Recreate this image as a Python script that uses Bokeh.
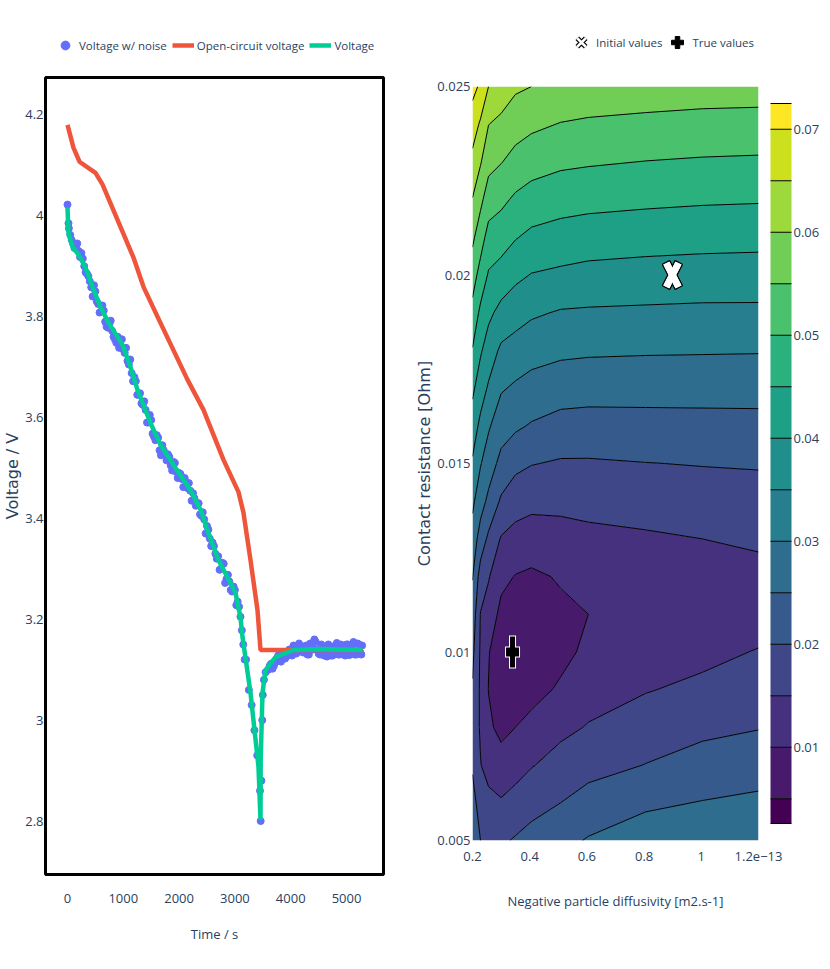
from math import pi
import numpy as np
from bokeh.embed import file_html
from bokeh.layouts import column, row
from bokeh.models import FixedTicker, Legend, LegendItem
from bokeh.palettes import viridis
from bokeh.plotting import figure
from bokeh.resources import INLINE

# left panel: discharge curves
ocv_time = [0, 107, 215, 502, 627, 1183, 1362, 1613, 2150, 2437, 2796, 3065, 3154, 3280, 3405, 3459, 5287]
ocv_volt = [4.18, 4.135, 4.107, 4.085, 4.062, 3.917, 3.859, 3.80, 3.675, 3.615, 3.516, 3.452, 3.411, 3.317, 3.218, 3.139, 3.139]

fit_time = [0, 18, 90, 197, 323, 448, 591, 735, 986, 1129, 1254, 1487, 1667, 1900, 2204, 2384, 2527, 2706, 2921, 3011,
            3100, 3136, 3280, 3423, 3459, 3462, 3495, 3548, 3728, 4050, 4534, 5287]
fit_volt = [4.016, 3.966, 3.938, 3.923, 3.897, 3.859, 3.819, 3.788, 3.744, 3.700, 3.655, 3.589, 3.546, 3.506, 3.456,
            3.417, 3.371, 3.317, 3.272, 3.252, 3.204, 3.165, 3.054, 2.907, 2.802, 2.921, 3.054, 3.099, 3.125, 3.139,
            3.141, 3.139]

noise_time = [0, 18, 50, 100, 150, 200, 250, 300, 350, 400, 450, 500, 550, 600, 650, 700, 750, 800, 850, 900, 950,
              1000, 1050, 1100, 1150, 1200, 1250, 1300, 1350, 1400, 1450, 1500, 1550, 1600, 1650, 1700, 1750, 1800,
              1850, 1900, 1950, 2000, 2050, 2100, 2150, 2200, 2250, 2300, 2350, 2400, 2450, 2500, 2550, 2600, 2650,
              2700, 2750, 2800, 2850, 2900, 2950, 3000, 3050, 3100, 3150, 3200, 3250, 3300, 3350, 3400, 3450, 3462,
              3475, 3490, 3500, 3520, 3550, 3600, 3650, 3700, 3750, 3800, 3850, 3900, 3950, 4000, 4050, 4100, 4150,
              4200, 4250, 4300, 4350, 4400, 4450, 4500, 4550, 4600, 4650, 4700, 4750, 4800, 4850, 4900, 4950, 5000,
              5050, 5100, 5150, 5200, 5250, 5280,
              25, 75, 125, 175, 225, 275, 325, 375, 425, 475, 525, 575, 625, 675, 725, 775, 825, 875, 925, 975,
              1025, 1075, 1125, 1175, 1225, 1275, 1325, 1375, 1425, 1475, 1525, 1575, 1625, 1675, 1725, 1775, 1825,
              1875, 1925, 1975, 2025, 2075, 2125, 2175, 2225, 2275, 2325, 2375, 2425, 2475, 2525, 2575, 2625, 2675,
              2725, 2775, 2825, 2875, 2925, 2975, 3025, 3075, 3125, 3175,
              3625, 3675, 3725, 3775, 3825, 3875, 3925, 3975, 4025, 4075, 4125, 4175, 4225, 4275, 4325, 4375, 4425,
              4475, 4525, 4575, 4625, 4675, 4725, 4775, 4825, 4875, 4925, 4975, 5025, 5075, 5125, 5175, 5225, 5265]
noise_volt = [4.022, 3.985, 3.962, 3.945, 3.938, 3.930, 3.926, 3.900, 3.885, 3.870, 3.840, 3.850, 3.825, 3.810, 3.812,
              3.780, 3.785, 3.772, 3.755, 3.760, 3.742, 3.735, 3.738, 3.705, 3.688, 3.680, 3.645, 3.648, 3.625, 3.615,
              3.590, 3.595, 3.562, 3.565, 3.535, 3.545, 3.525, 3.527, 3.505, 3.512, 3.492, 3.490, 3.478, 3.480, 3.460,
              3.455, 3.450, 3.425, 3.430, 3.405, 3.398, 3.385, 3.360, 3.352, 3.330, 3.325, 3.300, 3.310, 3.280, 3.275,
              3.255, 3.258, 3.235, 3.205, 3.150, 3.120, 3.060, 3.030, 2.980, 2.930, 2.860, 2.800, 2.880, 3.000, 3.050,
              3.080, 3.095, 3.100, 3.112, 3.108, 3.122, 3.118, 3.128, 3.122, 3.135, 3.130, 3.148, 3.132, 3.152, 3.136,
              3.146, 3.130, 3.152, 3.140, 3.155, 3.132, 3.150, 3.128, 3.126, 3.146, 3.128, 3.148, 3.130, 3.150, 3.132,
              3.150, 3.129, 3.146, 3.130, 3.152, 3.134, 3.148,
              3.975, 3.952, 3.936, 3.945, 3.918, 3.915, 3.888, 3.880, 3.858, 3.862, 3.830, 3.808, 3.822, 3.790, 3.778,
              3.792, 3.760, 3.748, 3.738, 3.755, 3.728, 3.712, 3.715, 3.672, 3.672, 3.645, 3.628, 3.632, 3.590, 3.605,
              3.568, 3.555, 3.560, 3.525, 3.535, 3.515, 3.522, 3.495, 3.510, 3.480, 3.488, 3.462, 3.465, 3.470, 3.435,
              3.440, 3.430, 3.408, 3.412, 3.370, 3.378, 3.345, 3.345, 3.320, 3.298, 3.312, 3.272, 3.288, 3.258, 3.265,
              3.228, 3.225, 3.178, 3.120,
              3.108, 3.102, 3.115, 3.128, 3.116, 3.134, 3.126, 3.140, 3.128, 3.145, 3.135, 3.145, 3.134, 3.148, 3.130,
              3.150, 3.160, 3.140, 3.130, 3.142, 3.132, 3.150, 3.128, 3.142, 3.153, 3.130, 3.145, 3.128, 3.150, 3.132,
              3.155, 3.130, 3.150, 3.130]

volt_ticks = [2.8, 3.0, 3.2, 3.4, 3.6, 3.8, 4.0, 4.2]
time_ticks = [0, 1000, 2000, 3000, 4000, 5000]

# right panel: cost landscape, diffusivity in units of 1e-13
diffusivity = [0.2, 0.228, 0.256, 0.3, 0.35, 0.406, 0.508, 0.605, 0.805, 1.004, 1.2]
resistance = [0.005, 0.006, 0.007, 0.008, 0.009, 0.010, 0.011, 0.012, 0.013, 0.014, 0.015, 0.016, 0.017, 0.018, 0.019,
              0.020, 0.021, 0.022, 0.023, 0.024, 0.025]
cost_020 = [.0240, .0215, .0195, .0190, .0195, .0212, .0231, .0252, .0279, .0310, .0344, .0376, .0410, .0447, .0485, .0522, .0560, .0598, .0636, .0675, .0715]
cost_023 = [.0200, .0182, .0152, .0143, .0142, .0143, .0148, .0178, .0228, .0270, .0303, .0338, .0373, .0406, .0439, .0482, .0521, .0562, .0604, .0643, .0692]
cost_026 = [.0185, .0165, .0130, .0108, .0099, .0102, .0127, .0154, .0190, .0239, .0274, .0306, .0344, .0377, .0411, .0445, .0482, .0524, .0566, .0601, .0650]
cost_030 = [.0192, .0155, .0118, .0088, .0078, .0078, .0088, .0112, .0146, .0193, .0236, .0271, .0305, .0341, .0385, .0430, .0472, .0511, .0552, .0586, .0635]
cost_035 = [.0205, .0166, .0133, .0100, .0072, .0062, .0073, .0098, .0132, .0172, .0212, .0258, .0293, .0330, .0370, .0411, .0453, .0492, .0534, .0570, .0608]
cost_041 = [.0215, .0185, .0147, .0113, .0085, .0067, .0073, .0092, .0126, .0163, .0202, .0246, .0282, .0319, .0357, .0398, .0439, .0480, .0520, .0560, .0600]
cost_051 = [.0235, .0200, .0169, .0138, .0106, .0088, .0091, .0104, .0132, .0162, .0195, .0233, .0272, .0310, .0346, .0391, .0430, .0470, .0509, .0548, .0588]
cost_060 = [.0254, .0218, .0184, .0153, .0131, .0109, .0100, .0116, .0138, .0165, .0195, .0231, .0269, .0307, .0344, .0385, .0425, .0465, .0505, .0543, .0582]
cost_080 = [.0275, .0242, .0201, .0177, .0147, .0125, .0118, .0123, .0143, .0172, .0199, .0233, .0268, .0305, .0342, .0381, .0420, .0460, .0499, .0538, .0577]
cost_100 = [.0288, .0252, .0219, .0189, .0162, .0136, .0122, .0130, .0150, .0177, .0202, .0234, .0268, .0304, .0340, .0378, .0417, .0456, .0495, .0534, .0573]
cost_120 = [.0296, .0260, .0228, .0198, .0176, .0153, .0125, .0135, .0158, .0181, .0204, .0235, .0268, .0303, .0340, .0377, .0415, .0454, .0493, .0532, .0572]
levels = [0.0026, 0.005, 0.01, 0.015, 0.02, 0.025, 0.03, 0.035, 0.04, 0.045, 0.05, 0.055, 0.06, 0.065, 0.07, 0.0725]
bar_ticks = [0.01, 0.02, 0.03, 0.04, 0.05, 0.06, 0.07]

initial_values = (0.899, 0.02)
true_values = (0.34, 0.01)

TEXT = "#2a3f5f"
FONT = "Open Sans"
WIDE = "DejaVu Sans"


def style_axes(fig, xticks, yticks, xlabels, ylabels):
    fig.grid.visible = False
    fig.xaxis.ticker = FixedTicker(ticks=xticks)
    fig.yaxis.ticker = FixedTicker(ticks=yticks)
    fig.xaxis.major_label_overrides = xlabels
    fig.yaxis.major_label_overrides = ylabels
    for ax in (fig.xaxis[0], fig.yaxis[0]):
        ax.axis_line_color = None
        ax.major_tick_line_color = None
        ax.minor_tick_line_color = None
        ax.major_tick_in = 0
        ax.major_tick_out = 0
        ax.major_label_text_font = FONT
        ax.major_label_text_font_size = "13px"
        ax.major_label_text_color = TEXT
        ax.axis_label_text_color = TEXT
        ax.axis_label_text_font_style = "normal"
        ax.axis_label_text_font = FONT
        ax.axis_label_text_font_size = "13px"
    fig.yaxis.axis_label_text_font = WIDE
    fig.yaxis.major_label_standoff = 2
    fig.toolbar.logo = None


# legends live in their own strip above each panel, a legend in an "above" panel blew the layout up
def legend_strip(width):
    strip = figure(width=width, height=60, min_border=0, x_range=(0, 1), y_range=(0, 1), x_axis_location=None,
                   y_axis_location=None, output_backend="svg", toolbar_location=None)
    strip.grid.visible = False
    strip.outline_line_color = None
    return strip


def add_legend(strip, items, x, y, glyph, standoff, spacing):
    strip.add_layout(Legend(items=items, orientation="horizontal", location=(x, y), background_fill_alpha=0,
                            border_line_color=None, glyph_width=glyph, glyph_height=glyph, label_standoff=standoff,
                            spacing=spacing, padding=0, margin=0, label_text_font=FONT, label_text_font_size="11.5px",
                            label_text_color=TEXT))


left = figure(frame_width=338, frame_height=797, min_border_left=45, min_border_right=29, min_border_top=17,
              min_border_bottom=76, x_range=(-394, 5663), y_range=(2.694, 4.274),
              output_backend="svg", toolbar_location=None)
style_axes(left, time_ticks, volt_ticks, {t: str(t) for t in time_ticks},
           {v: f"{v:g}" for v in volt_ticks})
left.xaxis.major_label_standoff = 19
left.xaxis.axis_label = "Time / s"
left.xaxis.axis_label_standoff = 19
left.yaxis.axis_label = "Voltage / V"
left.yaxis.axis_label_text_font_size = "16px"
left.yaxis.axis_label_standoff = 0
left.outline_line_color = "black"
left.outline_line_width = 3
left.scatter(noise_time, noise_volt, size=7, color="#636efa")
left.line(ocv_time, ocv_volt, color="#ef553b", line_width=4.5)
left.line(fit_time, fit_volt, color="#00cc96", line_width=4.5)

left_strip = legend_strip(412)
add_legend(left_strip,
           [LegendItem(label="Voltage w/ noise", renderers=[left_strip.scatter(noise_time[:1], noise_volt[:1], color="#636efa")]),
            LegendItem(label="Open-circuit voltage", renderers=[left_strip.line(ocv_time[:2], ocv_volt[:2], color="#ef553b", line_width=4.5)]),
            LegendItem(label="Voltage", renderers=[left_strip.line(fit_time[:2], fit_volt[:2], color="#00cc96", line_width=4.5)])],
           54, 4, 22, 3, 5)

right = figure(frame_width=286, frame_height=754, min_border_left=60, min_border_right=70, min_border_top=17,
               min_border_bottom=100, margin=(9, 0, 0, 0), x_range=(0.2, 1.2), y_range=(0.005, 0.025),
               output_backend="svg", toolbar_location=None)
style_axes(right, [0.2, 0.4, 0.6, 0.8, 1.0, 1.2], [0.005, 0.01, 0.015, 0.02, 0.025],
           {0.2: "0.2", 0.4: "0.4", 0.6: "0.6", 0.8: "0.8", 1.0: "1", 1.2: "1.2e\u221213"},
           {0.005: "0.005", 0.01: "0.01", 0.015: "0.015", 0.02: "0.02", 0.025: "0.025"})
right.xaxis.major_label_standoff = 11
right.xaxis.axis_label = "Negative particle diffusivity [m2.s-1]"
right.xaxis.axis_label_standoff = 28
right.yaxis.axis_label = "Contact resistance [Ohm]"
right.yaxis.axis_label_text_font_size = "16px"
right.yaxis.axis_label_standoff = 0
right.outline_line_color = None

cost = np.array([cost_020, cost_023, cost_026, cost_030, cost_035, cost_041, cost_051, cost_060, cost_080, cost_100,
                 cost_120]).T
contours = right.contour(diffusivity, resistance, cost, levels, fill_color=viridis(15), line_color="black", line_width=1)

bar = contours.construct_color_bar(width=21, height=720, location=(12, 17), padding=0, margin=0,
                                   major_tick_line_color=None, major_label_text_font=FONT,
                                   major_label_text_font_size="13px", major_label_text_color=TEXT,
                                   major_label_overrides={t: f"{t:g}" for t in bar_ticks},
                                   label_standoff=2, background_fill_alpha=0)
bar.ticker = FixedTicker(ticks=bar_ticks)
right.add_layout(bar, "right")

for sign in (1, -1):
    right.rect([initial_values[0]], [initial_values[1]], width=28, height=8, angle=sign * 1.1,
               width_units="screen", height_units="screen", fill_color="white", line_color="black", line_width=1.5)
for sign in (1, -1):
    right.rect([initial_values[0]], [initial_values[1]], width=27, height=7, angle=sign * 1.1,
               width_units="screen", height_units="screen", fill_color="white", line_color=None)
for w, h, c in ((7, 33, "white"), (15, 11, "white"), (5, 31, "black"), (13, 9, "black")):
    right.rect([true_values[0]], [true_values[1]], width=w, height=h, width_units="screen", height_units="screen",
               fill_color=c, line_color=None)

# out-of-range points, only their legend handles show; black x under white x gives the hollow cross
right_strip = legend_strip(416)
off_x, off_y = initial_values[0], initial_values[1] + 2
init_edge = right_strip.scatter([off_x], [off_y], marker="x", line_color="black", line_width=5)
init_fill = right_strip.scatter([off_x], [off_y], marker="x", line_color="white", line_width=2.5)
true_mark = right_strip.scatter([true_values[0]], [true_values[1] + 2], marker="plus", color="black")
add_legend(right_strip,
           [LegendItem(label="Initial values", renderers=[init_edge, init_fill]),
            LegendItem(label="True values", renderers=[true_mark])],
           154, 3, 30, 0, 0)

p = column(row(left_strip, right_strip), row(left, right))
open("out.html", "w").write(file_html(p, INLINE))
